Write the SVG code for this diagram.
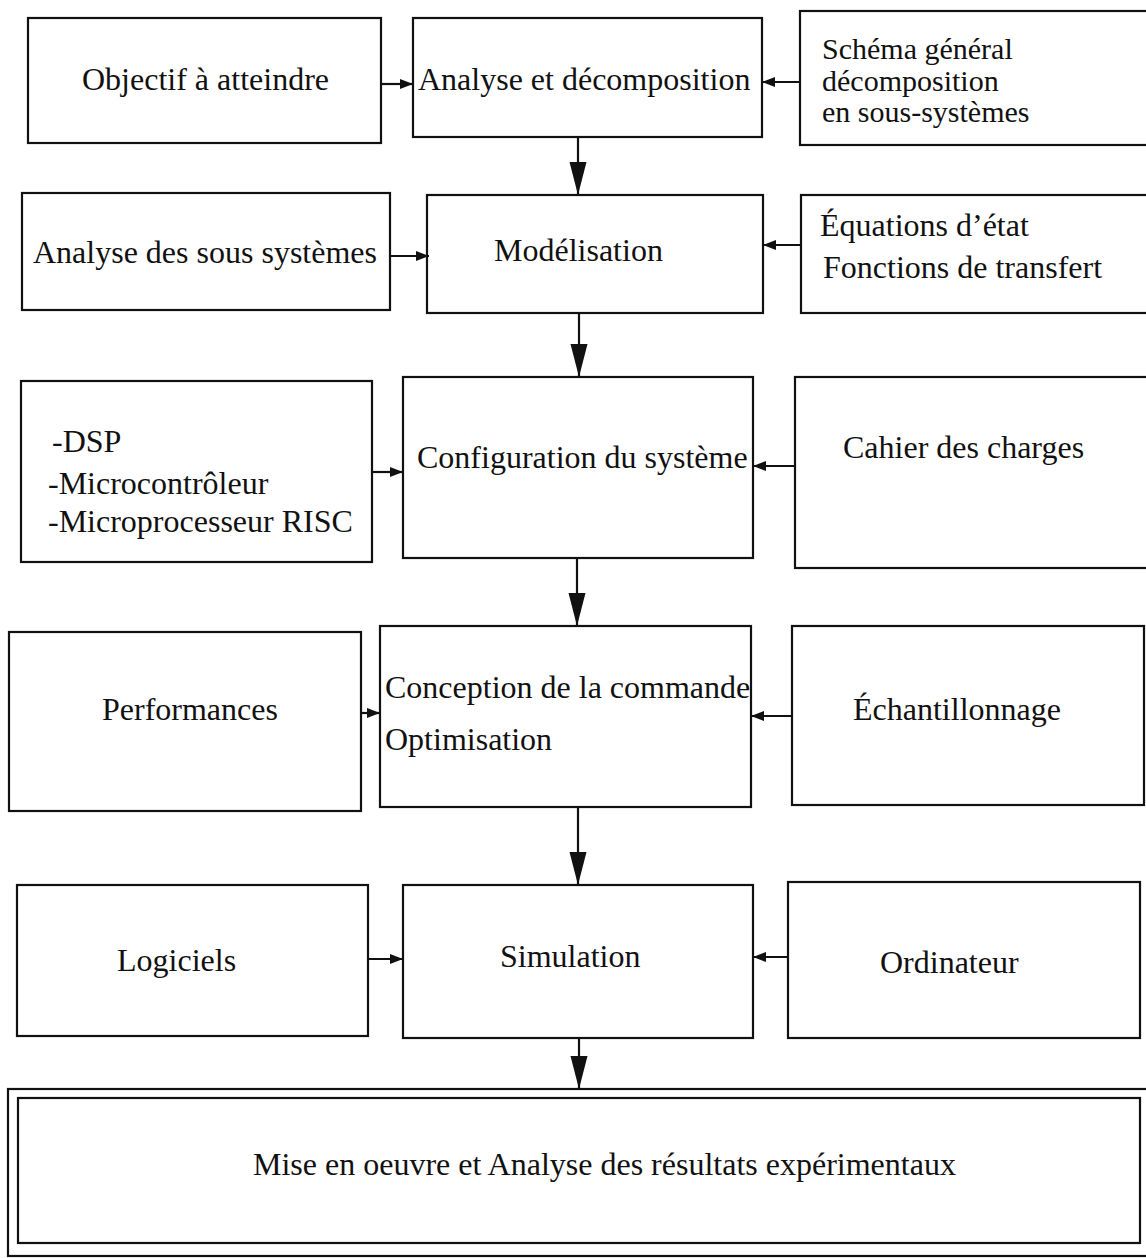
<svg xmlns="http://www.w3.org/2000/svg" width="1146" height="1258" viewBox="0 0 1146 1258">
<style>
  .box { fill: #ffffff; stroke: #111111; stroke-width: 2.2; }
  .lbl { font-family: "Liberation Serif", "Times New Roman", serif; font-size: 32px; fill: #111111; }
  .tight { font-size: 30px; }
  .conn { stroke: #111111; stroke-width: 2.2; fill: none; }
  .s { marker-end: url(#ah-s); }
  .l { marker-end: url(#ah-l); }
</style>
<defs>
  <marker id="ah-s" markerWidth="14" markerHeight="12" refX="13" refY="6" orient="auto" markerUnits="userSpaceOnUse">
    <path d="M0,1 L13,6 L0,11 z" fill="#111111"/>
  </marker>
  <marker id="ah-l" markerWidth="34" markerHeight="20" refX="33" refY="10" orient="auto" markerUnits="userSpaceOnUse">
    <path d="M0,1.5 L33,10 L0,18.5 z" fill="#111111"/>
  </marker>
</defs>
<rect width="1146" height="1258" fill="#ffffff"/>

<g id="n-objectif">
  <rect class="box" x="28" y="18" width="353" height="125"/>
  <text class="lbl" x="82" y="90">Objectif à atteindre</text>
</g>
<g id="n-analyse">
  <rect class="box" x="413" y="18" width="349" height="119"/>
  <text class="lbl" x="418" y="90">Analyse et décomposition</text>
</g>
<g id="n-schema">
  <rect class="box" x="800" y="11" width="370" height="134"/>
  <text class="lbl tight" x="822" y="59">Schéma général</text>
  <text class="lbl tight" x="822" y="91">décomposition</text>
  <text class="lbl tight" x="822" y="122">en sous-systèmes</text>
</g>

<g id="n-analyse-ss">
  <rect class="box" x="22" y="193" width="368" height="117"/>
  <text class="lbl" x="33" y="263">Analyse des sous systèmes</text>
</g>
<g id="n-modelisation">
  <rect class="box" x="427" y="195" width="336" height="118"/>
  <text class="lbl" x="494" y="261">Modélisation</text>
</g>
<g id="n-equations">
  <rect class="box" x="801" y="195" width="370" height="118"/>
  <text class="lbl" x="820" y="236">Équations d’état</text>
  <text class="lbl" x="823" y="278">Fonctions de transfert</text>
</g>

<g id="n-dsp">
  <rect class="box" x="21" y="381" width="351" height="181"/>
  <text class="lbl" x="52" y="452">-DSP</text>
  <text class="lbl" x="48" y="494">-Microcontrôleur</text>
  <text class="lbl" x="48" y="532">-Microprocesseur RISC</text>
</g>
<g id="n-configuration">
  <rect class="box" x="403" y="377" width="350" height="181"/>
  <text class="lbl" x="417" y="468">Configuration du système</text>
</g>
<g id="n-cahier">
  <rect class="box" x="795" y="377" width="375" height="191"/>
  <text class="lbl" x="843" y="458">Cahier des charges</text>
</g>

<g id="n-performances">
  <rect class="box" x="9" y="632" width="352" height="179"/>
  <text class="lbl" x="102" y="720">Performances</text>
</g>
<g id="n-conception">
  <rect class="box" x="380" y="626" width="371" height="181"/>
  <text class="lbl" x="385" y="698">Conception de la commande</text>
  <text class="lbl" x="385" y="750">Optimisation</text>
</g>
<g id="n-echantillonnage">
  <rect class="box" x="792" y="626" width="352" height="179"/>
  <text class="lbl" x="853" y="720">Échantillonnage</text>
</g>

<g id="n-logiciels">
  <rect class="box" x="17" y="885" width="351" height="151"/>
  <text class="lbl" x="117" y="971">Logiciels</text>
</g>
<g id="n-simulation">
  <rect class="box" x="403" y="885" width="350" height="153"/>
  <text class="lbl" x="500" y="967">Simulation</text>
</g>
<g id="n-ordinateur">
  <rect class="box" x="788" y="882" width="352" height="156"/>
  <text class="lbl" x="880" y="973">Ordinateur</text>
</g>

<g id="n-mise-en-oeuvre">
  <rect class="box" x="8" y="1089" width="1160" height="167"/>
  <rect class="box" x="18" y="1098" width="1122" height="145"/>
  <text class="lbl" x="253" y="1175">Mise en oeuvre et Analyse des résultats expérimentaux</text>
</g>

<g id="connectors">
  <line class="conn s" x1="381" y1="84" x2="413" y2="84"/>
  <line class="conn s" x1="800" y1="82" x2="762" y2="82"/>
  <line class="conn l" x1="578" y1="137" x2="578" y2="195"/>
  <line class="conn s" x1="390" y1="256" x2="429" y2="256"/>
  <line class="conn s" x1="801" y1="245" x2="763" y2="245"/>
  <line class="conn l" x1="579" y1="313" x2="579" y2="377"/>
  <line class="conn s" x1="372" y1="472" x2="403" y2="472"/>
  <line class="conn s" x1="795" y1="466" x2="753" y2="466"/>
  <line class="conn l" x1="577" y1="558" x2="577" y2="626"/>
  <line class="conn s" x1="361" y1="713" x2="380" y2="713"/>
  <line class="conn s" x1="792" y1="716" x2="751" y2="716"/>
  <line class="conn l" x1="578" y1="807" x2="578" y2="885"/>
  <line class="conn s" x1="368" y1="959" x2="403" y2="959"/>
  <line class="conn s" x1="788" y1="957" x2="753" y2="957"/>
  <line class="conn l" x1="579" y1="1038" x2="579" y2="1089"/>
</g>
</svg>
